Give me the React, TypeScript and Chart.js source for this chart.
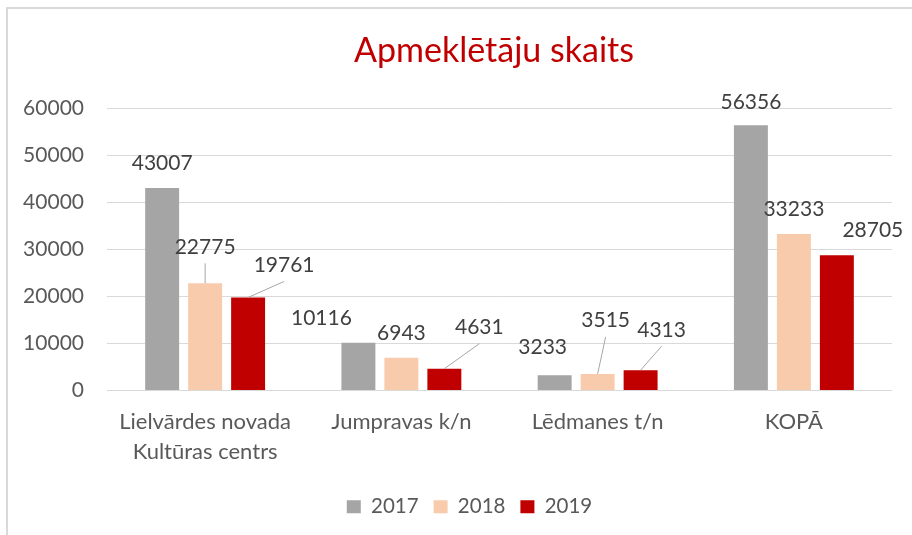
import React, { useEffect, useRef } from "react";
import { Chart, registerables } from "chart.js";

Chart.register(...registerables);

const TITLE = "Apmeklētāju skaits";
const categories: (string | string[])[] = [
  ["Lielvārdes novada", "Kultūras centrs"],
  "Jumpravas k/n",
  "Lēdmanes t/n",
  "KOPĀ",
];
const seriesNames = ["2017", "2018", "2019"];
const values2017 = [43007, 10116, 3233, 56356];
const values2018 = [22775, 6943, 3515, 33233];
const values2019 = [19761, 4631, 4313, 28705];
const yTicks = [0, 10000, 20000, 30000, 40000, 50000, 60000];

const COLORS = ["#A5A5A5", "#F8CBAD", "#C00000"];
const FONT = "Lato, 'Open Sans', sans-serif";

// label placement (pixel offsets from bar top centre) — styling only
const labelOffsets: [number, number][][] = [
  [[0, -26], [-37, -25], [-12, -29], [0, -24]],
  [[0, -37], [0, -25], [8, -54], [0, -26]],
  [[36, -33], [35, -42], [21, -41], [36, -26]],
];
const leaderLines: boolean[][] = [
  [false, false, false, false],
  [true, false, true, false],
  [true, true, true, false],
];

const dataLabelPlugin = {
  id: "dataLabels",
  afterDatasetsDraw(chart: any) {
    const ctx = chart.ctx;
    ctx.save();
    chart.data.datasets.forEach((ds: any, i: number) => {
      const meta = chart.getDatasetMeta(i);
      meta.data.forEach((bar: any, j: number) => {
        const [dx, dy] = labelOffsets[i][j];
        const lx = bar.x + dx;
        const ly = bar.y + dy;
        if (leaderLines[i][j]) {
          ctx.strokeStyle = "#A6A6A6";
          ctx.lineWidth = 1;
          ctx.beginPath();
          ctx.moveTo(lx, ly + 17);
          ctx.lineTo(bar.x, bar.y);
          ctx.stroke();
        }
        ctx.fillStyle = "#404040";
        ctx.font = `21px ${FONT}`;
        ctx.textAlign = "center";
        ctx.textBaseline = "alphabetic";
        ctx.fillText(String(ds.data[j]), lx, ly + 7.5);
      });
    });
    ctx.restore();
  },
};

const titlePlugin = {
  id: "customTitle",
  afterLayout(chart: any) {
    // shift the legend block so it sits where the original places it
    if (chart.legend) chart.legend.left += 27;
  },
  afterDraw(chart: any) {
    const ctx = chart.ctx;
    ctx.save();
    ctx.fillStyle = "#C00000";
    ctx.font = `34px ${FONT}`;
    ctx.textAlign = "center";
    ctx.textBaseline = "alphabetic";
    ctx.fillText(TITLE, 494, 62);
    ctx.restore();
  },
};

export default function App() {
  const ref = useRef<HTMLCanvasElement | null>(null);
  useEffect(() => {
    if (!ref.current) return;
    const chart = new Chart(ref.current, {
      type: "bar",
      data: {
        labels: categories,
        datasets: [values2017, values2018, values2019].map((vals, i) => ({
          label: seriesNames[i],
          data: vals,
          backgroundColor: COLORS[i],
          borderWidth: 0,
          categoryPercentage: 0.657,
          barPercentage: 0.79,
        })),
      },
      options: {
        animation: false,
        responsive: false,
        maintainAspectRatio: false,
        layout: { padding: { left: 20, right: 20, top: 108, bottom: 8 } },
        plugins: {
          title: { display: false },
          tooltip: { enabled: false },
          legend: {
            position: "bottom",
            labels: {
              boxWidth: 14,
              boxHeight: 13,
              padding: 15,
              color: "#595959",
              font: { family: FONT, size: 20.5 },
            },
          },
        },
        scales: {
          x: {
            grid: { display: false, drawTicks: false },
            border: { display: false },
            ticks: {
              color: "#595959",
              font: { family: FONT, size: 22, lineHeight: 1.364 },
              padding: 16,
              maxRotation: 0,
              autoSkip: false,
            },
            afterFit: (scale: any) => {
              scale.height = 91;
            },
          },
          y: {
            min: 0,
            max: 60000,
            grid: { color: "#D9D9D9", lineWidth: 1, drawTicks: false },
            border: { display: false },
            afterBuildTicks: (scale: any) => {
              scale.ticks = yTicks.map((v) => ({ value: v }));
            },
            ticks: {
              color: "#595959",
              font: { family: FONT, size: 21 },
              padding: 23,
              callback: (v: any) => String(v),
            },
            afterFit: (scale: any) => {
              scale.width = 87;
            },
          },
        },
      },
      plugins: [dataLabelPlugin, titlePlugin],
    });
    return () => chart.destroy();
  }, []);

  return (
    <div
      style={{
        position: "fixed",
        left: 0,
        top: 0,
        width: 912,
        height: 535,
        overflow: "hidden",
        background: "#fff",
      }}
    >
      <div
        style={{
          position: "absolute",
          left: 6,
          top: 7,
          width: 1000,
          height: 1000,
          borderLeft: "2px solid #D9D9D9",
          borderTop: "2px solid #D9D9D9",
        }}
      />
      <canvas
        ref={ref}
        width={912}
        height={535}
        style={{ position: "absolute", left: 0, top: 0, width: 912, height: 535 }}
      />
    </div>
  );
}
